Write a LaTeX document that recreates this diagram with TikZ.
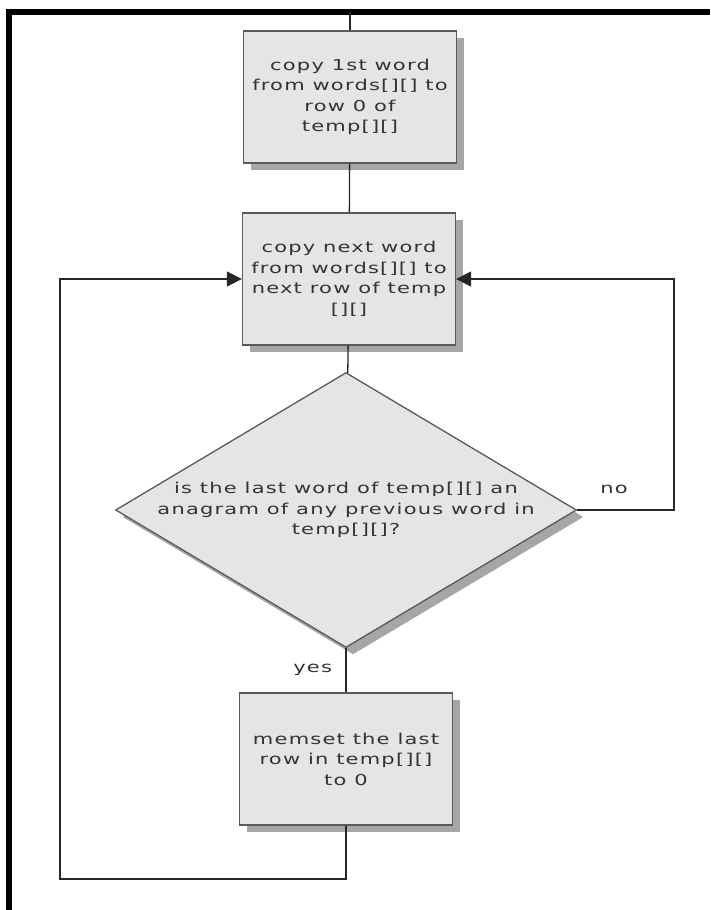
\documentclass[tikz,border=0pt]{standalone}
\usepackage{fontspec}
\newfontfamily\flowfont[FakeStretch=1.4,LetterSpace=8]{DejaVu Sans}
\usetikzlibrary{positioning,shapes.geometric,arrows.meta,shadows}

\begin{document}
\begin{tikzpicture}[x=1pt,y=-1pt,
		every node/.style={font={\flowfont\fontsize{15}{20.5}\selectfont}, text=black!80, align=center},
		boxshadow/.style={drop shadow={shadow xshift=7pt, shadow yshift=-7pt, fill=black!35, opacity=1}},
		procbox/.style={rectangle, draw=black!65, line width=1.3pt, fill=gray!20, minimum width=213pt, minimum height=132pt, inner sep=0pt, boxshadow},
		decision/.style={diamond, draw=black!65, line width=1.3pt, fill=gray!20, minimum width=461pt, minimum height=275pt, inner sep=0pt, boxshadow},
		flow/.style={draw=black!85, line width=1.3pt},
		flowarrow/.style={flow, -{Triangle[length=15pt,width=15pt]}}]
		\useasboundingbox (0,0) rectangle (710,910);
		
		% Frame
		\coordinate (framecorner) at (9,12);
		\draw[line width=6pt] (9,910) -- (framecorner) -- (710,12);
		
		% Steps
		\node[procbox] (firstcopy) at (350,97) {copy 1st word\\from words[][] to\\row 0 of\\temp[][]};
		\node[procbox] (nextcopy) at (349,279) {copy next word\\from words[][] to\\next row of temp\\{}[][]};
		\node[decision] (anagram) at (346,510) {};
		\node (anagramtext) at (anagram) {is the last word of temp[][] an\\anagram of any previous word in\\temp[][]?};
		\node[procbox] (clearrow) at (346,759) {memset the last\\row in temp[][]\\to 0};
		
		% Connectors
		\coordinate (noturn) at (674,510);
		\coordinate (yesturn) at (60,879);
		\draw[flow] (firstcopy.north) -- (firstcopy.north |- framecorner);
		\draw[flow] (firstcopy) -- (nextcopy);
		\draw[flow] (nextcopy) -- (anagram);
		\draw[flowarrow] (anagram.east) -- node[pos=0.38, above=12pt] (nolabel) {no} (noturn) |- (nextcopy.east);
		\draw[flow] (anagram.south) -- node[left=10pt] (yeslabel) {yes} (clearrow.north);
		\draw[flowarrow] (clearrow.south) |- (yesturn) |- (nextcopy.west);
	\end{tikzpicture}
\end{document}
